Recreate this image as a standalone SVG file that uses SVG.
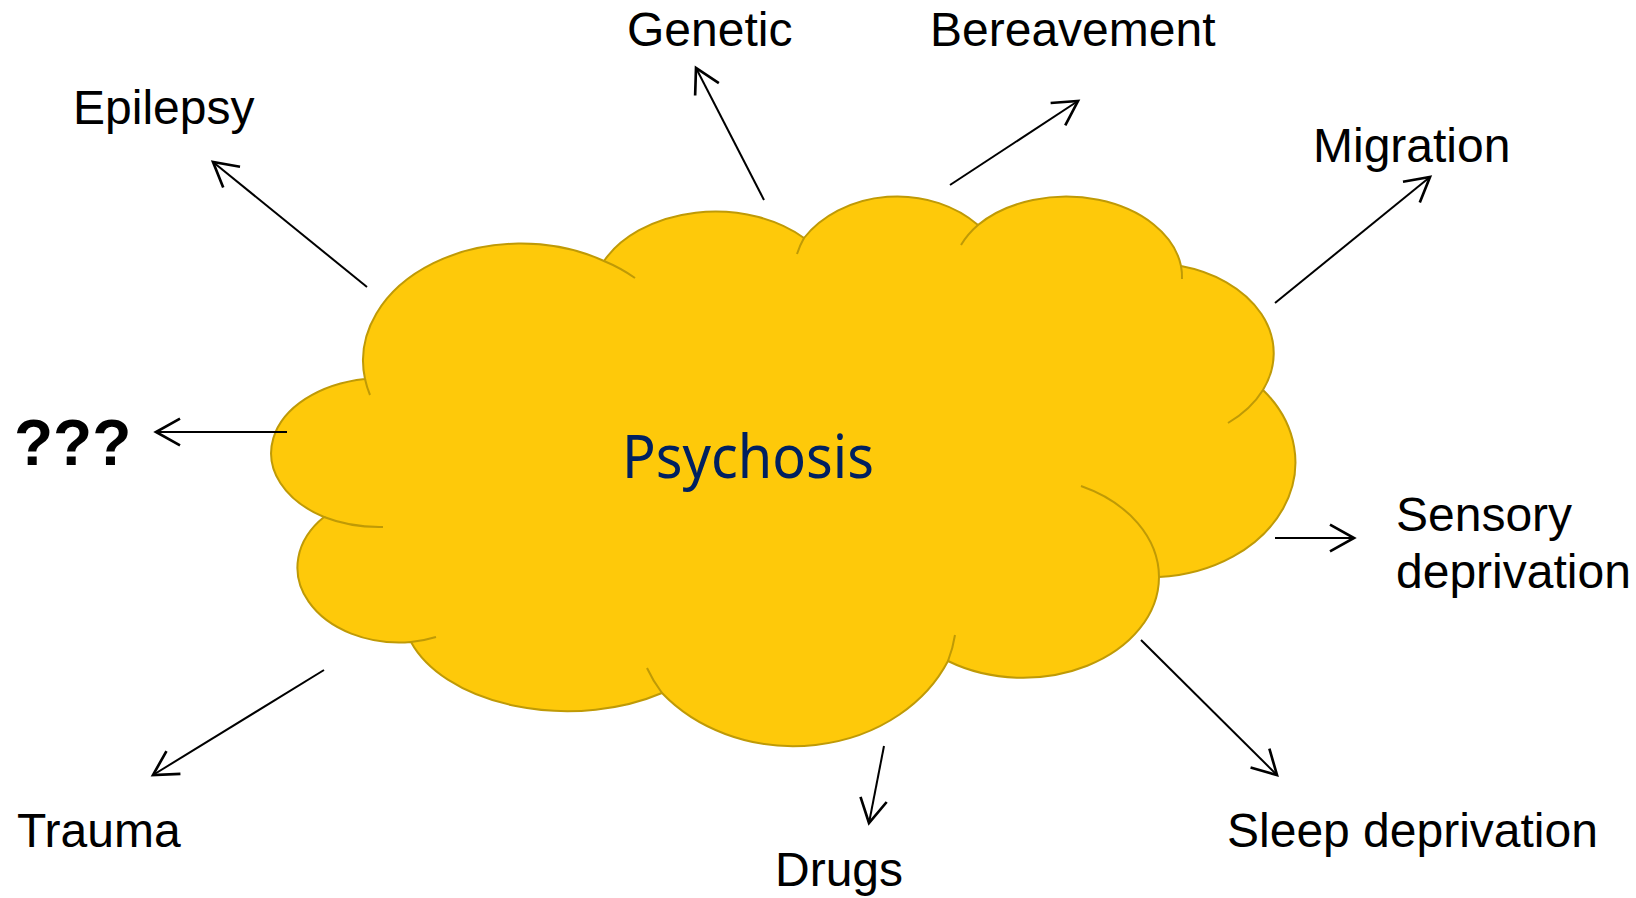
<svg xmlns="http://www.w3.org/2000/svg" width="1636" height="898" viewBox="0 0 1636 898">
<style>
.lbl{font-family:"Liberation Sans",Arial,sans-serif;font-size:48px;fill:#000}
.q{font-family:"Liberation Sans",Arial,sans-serif;font-size:64px;font-weight:bold;fill:#000}
.arr{stroke:#000;stroke-width:2;fill:none;marker-end:url(#ah)}
.cloud{fill:#FEC90A;stroke:#BF9A06;stroke-width:2}
.inner{fill:none;stroke:#BF9A06;stroke-width:2}
</style>
<defs>
<marker id="ah" markerUnits="userSpaceOnUse" markerWidth="40" markerHeight="40" viewBox="-25 -15 30 30" refX="0" refY="0" orient="auto" overflow="visible">
<path d="M-18,-10 L0,0 L-18,10" fill="none" stroke="#000" stroke-width="2"/>
</marker>
</defs>
<rect width="1636" height="898" fill="#fff"/>
<g id="psychosis">
<path class="cloud" d="M365,379 A158,117 0 0 1 604,261 A124,88 0 0 1 804,238 A112,93 0 0 1 978,225 A116,81 0 0 1 1181,266 A123,90 0 0 1 1263,390 A146,115 0 0 1 1159,577 A136,101 0 0 1 948,661 A169,143 0 0 1 662,693 A165,101 0 0 1 411,642 A102,75 0 0 1 324,517 A111,75 0 0 1 365,379 Z"/>
<path class="inner" d="M604,261 A158,117 0 0 1 635,278"/>
<path class="inner" d="M370,395 A158,117 0 0 1 365,379"/>
<path class="inner" d="M797,254 A112,93 0 0 1 804,238"/>
<path class="inner" d="M961,245 A116,81 0 0 1 978,225"/>
<path class="inner" d="M1181,266 A116,81 0 0 1 1182,279"/>
<path class="inner" d="M1263,390 A123,90 0 0 1 1228,423"/>
<path class="inner" d="M1081,486 A136,101 0 0 1 1159,577"/>
<path class="inner" d="M955,635 A169,143 0 0 1 948,661"/>
<path class="inner" d="M662,693 A169,143 0 0 1 647,668"/>
<path class="inner" d="M436,637 A102,75 0 0 1 411,642"/>
<path class="inner" d="M383,527 A111,75 0 0 1 324,517"/>
<text x="622" y="478" font-family="'Noto Sans','Open Sans',sans-serif" font-size="60" fill="#002060" textLength="252" lengthAdjust="spacingAndGlyphs">Psychosis</text>
</g>
<g id="connectors">
<line class="arr" x1="367" y1="287" x2="213" y2="162"/>
<line class="arr" x1="287" y1="432" x2="156" y2="432"/>
<line class="arr" x1="764" y1="200" x2="696" y2="68"/>
<line class="arr" x1="950" y1="185" x2="1078" y2="101"/>
<line class="arr" x1="1275" y1="303" x2="1430" y2="177"/>
<line class="arr" x1="1275" y1="538" x2="1354" y2="538"/>
<line class="arr" x1="1141" y1="640" x2="1277" y2="775"/>
<line class="arr" x1="884" y1="746" x2="869" y2="823"/>
<line class="arr" x1="324" y1="670" x2="153" y2="775"/>
</g>
<g id="epilepsy"><text class="lbl" x="73" y="124">Epilepsy</text></g>
<g id="genetic"><text class="lbl" x="627" y="46">Genetic</text></g>
<g id="bereavement"><text class="lbl" x="930" y="46">Bereavement</text></g>
<g id="migration"><text class="lbl" x="1313" y="162">Migration</text></g>
<g id="unknown"><text class="q" x="14" y="465">???</text></g>
<g id="sensory-deprivation"><text class="lbl" x="1396" y="531">Sensory</text><text class="lbl" x="1396" y="588">deprivation</text></g>
<g id="sleep-deprivation"><text class="lbl" x="1227" y="847">Sleep deprivation</text></g>
<g id="drugs"><text class="lbl" x="775" y="886">Drugs</text></g>
<g id="trauma"><text class="lbl" x="17" y="847">Trauma</text></g>
</svg>
